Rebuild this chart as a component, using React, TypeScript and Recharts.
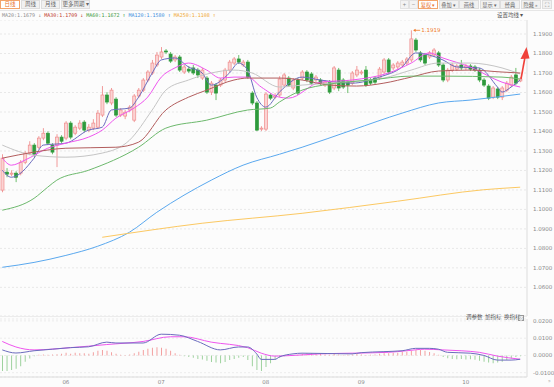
import React from "react";
import {
  ComposedChart,
  Bar,
  Line,
  XAxis,
  YAxis,
  CartesianGrid,
  Cell,
  ReferenceDot,
} from "recharts";

// daily candles (oldest first)
const opens = [
  1.1099, 1.1191, 1.1181, 1.1186, 1.1186, 1.1242, 1.1289, 1.133, 1.1319, 1.1366,
  1.1391, 1.133, 1.133, 1.1371, 1.1366, 1.1443, 1.1391, 1.1417, 1.1448, 1.1407,
  1.1417, 1.1422, 1.1484, 1.1587, 1.1546, 1.1566, 1.1484, 1.1479, 1.151, 1.1458,
  1.1582, 1.1612, 1.1664, 1.17, 1.1741, 1.1782, 1.1813, 1.1797, 1.1767, 1.1782,
  1.1705, 1.172, 1.1726, 1.1715, 1.1674, 1.1674, 1.1602, 1.1638, 1.1638, 1.1664,
  1.1715, 1.1751, 1.1772, 1.1741, 1.1756, 1.1597, 1.1546, 1.1412, 1.1412, 1.1587,
  1.1576, 1.1587, 1.1638, 1.1674, 1.1623, 1.1664, 1.1674, 1.1705, 1.1695, 1.1664,
  1.1664, 1.1638, 1.1653, 1.1623, 1.1715, 1.1664, 1.1653, 1.1648, 1.169, 1.17,
  1.1715, 1.1664, 1.1674, 1.1674, 1.1705, 1.1767, 1.1726, 1.1731, 1.1741, 1.1751,
  1.1767, 1.1869, 1.1803, 1.1792, 1.1782, 1.1792, 1.1803, 1.1741, 1.1664, 1.1715,
  1.172, 1.1741, 1.1726, 1.1736, 1.1731, 1.1715, 1.1664, 1.1633, 1.1576, 1.1618,
  1.1576, 1.1612, 1.1638, 1.169, 1.1659,
];
const highs = [
  1.1283, 1.1212, 1.1201, 1.1196, 1.1253, 1.1299, 1.135, 1.134, 1.1376, 1.1417,
  1.1401, 1.134, 1.1386, 1.1381, 1.1453, 1.1453, 1.1432, 1.1458, 1.1458, 1.1438,
  1.1463, 1.151, 1.1633, 1.1602, 1.1623, 1.1576, 1.152, 1.151, 1.1535, 1.1592,
  1.1623, 1.1674, 1.1715, 1.1767, 1.1808, 1.1833, 1.1823, 1.1808, 1.1792, 1.1792,
  1.1741, 1.1736, 1.1741, 1.1726, 1.1726, 1.1684, 1.1659, 1.1648, 1.1674, 1.1726,
  1.1767, 1.1782, 1.1792, 1.1767, 1.1767, 1.1607, 1.1556, 1.1427, 1.1602, 1.1597,
  1.1597, 1.1684, 1.17, 1.1684, 1.1674, 1.1674, 1.1715, 1.1715, 1.1705, 1.169,
  1.1674, 1.1664, 1.1664, 1.1736, 1.1726, 1.1674, 1.1664, 1.171, 1.1736, 1.1715,
  1.1736, 1.1674, 1.1684, 1.1731, 1.1777, 1.1777, 1.1751, 1.1761, 1.1767, 1.1782,
  1.1919, 1.188, 1.1813, 1.1803, 1.1813, 1.1828, 1.1813, 1.1751, 1.1726, 1.1751,
  1.1746, 1.1767, 1.1746, 1.1746, 1.1741, 1.1726, 1.1674, 1.1643, 1.1633, 1.1628,
  1.1633, 1.1659, 1.169, 1.1726, 1.1679,
];
const lows = [
  1.1088, 1.1165, 1.117, 1.114, 1.1175, 1.1232, 1.1278, 1.1268, 1.1309, 1.1355,
  1.133, 1.1283, 1.1217, 1.134, 1.1355, 1.136, 1.1381, 1.1407, 1.1396, 1.1396,
  1.1407, 1.1412, 1.1474, 1.154, 1.1535, 1.1474, 1.1474, 1.1463, 1.1499, 1.1448,
  1.1571, 1.1602, 1.1653, 1.169, 1.1731, 1.1772, 1.1797, 1.1751, 1.1756, 1.1705,
  1.1695, 1.17, 1.169, 1.1674, 1.1664, 1.1592, 1.1587, 1.1561, 1.1628, 1.1653,
  1.1705, 1.1741, 1.1746, 1.1731, 1.1669, 1.1535, 1.1402, 1.1402, 1.1402, 1.1561,
  1.1566, 1.1576, 1.1628, 1.1628, 1.1612, 1.1587, 1.1664, 1.1653, 1.1638, 1.1653,
  1.1638, 1.1628, 1.1592, 1.1612, 1.1607, 1.1618, 1.1597, 1.1638, 1.1679, 1.169,
  1.1628, 1.1638, 1.1643, 1.1664, 1.1695, 1.1695, 1.1715, 1.172, 1.1731, 1.1741,
  1.1756, 1.1808, 1.1756, 1.1741, 1.1772, 1.1782, 1.1731, 1.1653, 1.1653, 1.1705,
  1.171, 1.1715, 1.1715, 1.171, 1.1705, 1.1653, 1.1628, 1.1561, 1.1566, 1.1566,
  1.1561, 1.1602, 1.1628, 1.1638, 1.1653,
];
const closes = [
  1.1263, 1.1181, 1.1186, 1.1165, 1.1242, 1.1289, 1.133, 1.1283, 1.1366, 1.1391,
  1.134, 1.1294, 1.1371, 1.135, 1.1443, 1.1371, 1.1422, 1.1443, 1.1407, 1.1422,
  1.1443, 1.1494, 1.1587, 1.1551, 1.1612, 1.1484, 1.151, 1.1499, 1.1525, 1.1582,
  1.1612, 1.1664, 1.1705, 1.1751, 1.1792, 1.1808, 1.1808, 1.1761, 1.1782, 1.1715,
  1.1731, 1.171, 1.17, 1.169, 1.1715, 1.1602, 1.1648, 1.1597, 1.1664, 1.1715,
  1.1756, 1.1772, 1.1756, 1.1756, 1.1679, 1.1546, 1.1407, 1.1417, 1.1592, 1.1571,
  1.1582, 1.1669, 1.169, 1.1638, 1.1664, 1.1597, 1.1705, 1.1664, 1.1648, 1.1679,
  1.1648, 1.1653, 1.1602, 1.1726, 1.1623, 1.1628, 1.1638, 1.17, 1.1715, 1.1705,
  1.1638, 1.1648, 1.1653, 1.172, 1.1767, 1.1705, 1.1741, 1.1751, 1.1756, 1.1772,
  1.1875, 1.1818, 1.1767, 1.1751, 1.1803, 1.1818, 1.1741, 1.1664, 1.1715, 1.1741,
  1.1736, 1.1726, 1.1736, 1.172, 1.1715, 1.1664, 1.1638, 1.1571, 1.1623, 1.1576,
  1.1623, 1.1648, 1.1679, 1.1648, 1.1669,
];

// moving averages as [candle index, value]
const ma5 = [
  [0, 1.1201], [2, 1.1165], [7, 1.1263], [9, 1.133], [14, 1.134], [19, 1.1407],
  [22, 1.1422], [24, 1.151], [28, 1.152], [30, 1.1576], [33, 1.17], [35, 1.1767],
  [38, 1.1777], [41, 1.1731], [44, 1.17], [46, 1.1638], [50, 1.17], [52, 1.1751],
  [54, 1.1715], [56, 1.1576], [58, 1.1525], [61, 1.1602], [66, 1.1679], [70, 1.1664],
  [77, 1.1648], [83, 1.1679], [88, 1.1731], [91, 1.1803], [94, 1.1792], [97, 1.1767],
  [100, 1.1731], [105, 1.1726], [109, 1.1628], [110, 1.1602], [112, 1.1628], [114, 1.1664],
];
const ma10 = [
  [0, 1.1263], [2, 1.1227], [5, 1.1253], [10, 1.1314], [14, 1.134], [19, 1.1371],
  [22, 1.1407], [25, 1.1468], [29, 1.152], [32, 1.1576], [35, 1.1679], [38, 1.1726],
  [41, 1.1751], [45, 1.1715], [48, 1.1674], [51, 1.1679], [54, 1.1679], [57, 1.1628],
  [61, 1.1576], [63, 1.1571], [70, 1.1653], [77, 1.1664], [85, 1.17], [90, 1.1751],
  [94, 1.1803], [97, 1.1777], [103, 1.1731], [110, 1.1653], [114, 1.1628],
];
const ma20 = [
  [0, 1.133], [7, 1.1278], [14, 1.1268], [22, 1.1289], [28, 1.1355], [33, 1.151],
  [36, 1.1612], [41, 1.1664], [46, 1.17], [51, 1.1715], [55, 1.17], [61, 1.1628],
  [66, 1.1638], [75, 1.1653], [84, 1.1674], [90, 1.1715], [96, 1.1751], [103, 1.1751],
  [110, 1.1726], [114, 1.1695],
];
const ma30 = [
  [0, 1.1263], [7, 1.1294], [14, 1.1314], [25, 1.1319], [30, 1.1345], [36, 1.151],
  [41, 1.1576], [45, 1.1612], [51, 1.1664], [54, 1.1674], [61, 1.1674], [66, 1.1664],
  [72, 1.1638], [78, 1.1633], [84, 1.1648], [90, 1.1679], [96, 1.171], [103, 1.1715],
  [110, 1.1705], [114, 1.17],
];
const ma60 = [
  [0, 1.0996], [7, 1.1057], [10, 1.1114], [12, 1.115], [19, 1.1201], [30, 1.1319],
  [36, 1.1417], [45, 1.1458], [54, 1.151], [59, 1.152], [61, 1.1551], [66, 1.1612],
  [72, 1.1643], [81, 1.1664], [90, 1.1684], [97, 1.1684], [110, 1.1679], [114, 1.1669],
];
const ma120 = [
  [0, 1.0703], [7, 1.0728], [14, 1.0764], [21, 1.0811], [28, 1.0883], [34, 1.0985],
  [40, 1.1073], [46, 1.115], [53, 1.1227], [61, 1.1283], [66, 1.1319], [77, 1.1407],
  [88, 1.1494], [96, 1.1546], [103, 1.1561], [114, 1.1592],
];
const ma250 = [
  [22, 1.0857], [44, 1.0929], [66, 1.098], [87, 1.1042], [106, 1.1101], [114, 1.1114],
];

// MACD panel
const dif = [
  [0, 0.0032], [3, 0.0014], [7, 0.0027], [11, 0.0036], [15, 0.0045], [19, 0.005],
  [23, 0.0077], [25, 0.0072], [31, 0.0072], [35, 0.0123], [39, 0.0117], [43, 0.0081],
  [48, 0.0032], [52, 0.0049], [54, 0.0049], [56, 0.0009], [57, -0.0023], [60, -0.0023],
  [61, -0.0009], [64, 0.0009], [66, 0.0013], [77, 0.0009], [79, 0.0016], [84, 0.0022],
  [88, 0.0027], [91, 0.0041], [94, 0.0041], [96, 0.0036], [98, 0.0018], [103, 0.0013],
  [106, 0], [109, -0.0027], [112, -0.0027], [114, -0.0022],
];
const dea = [
  [0, 0.0081], [3, 0.0049], [7, 0.0032], [15, 0.0045], [23, 0.0063], [31, 0.0081],
  [37, 0.0108], [40, 0.0108], [46, 0.0077], [54, 0.0045], [57, 0.0013], [60, -0.0004],
  [64, 0], [70, 0.0009], [77, 0.0013], [85, 0.0018], [89, 0.0027], [93, 0.0036],
  [97, 0.0032], [101, 0.0027], [105, 0.0018], [109, -0.0004], [114, -0.0022],
];
const macdHist = [
  -0.009, -0.009, -0.0085, -0.0077, -0.0063, -0.0036, -0.0018, -0.0005, 0.0004, 0.0005,
  0.0004, 0.0005, 0.0007, 0.0009, 0.0016, 0.0009, 0.0016, 0.0013, 0.0013, 0.0009,
  0.0018, 0.0027, 0.0031, 0.0027, 0.0018, 0.0009, 0.0004, 0.0002, 0.0005, 0.0013,
  0.0022, 0.0031, 0.0038, 0.0045, 0.0047, 0.0045, 0.0038, 0.0027, 0.0013, 0.0004,
  -0.0005, -0.0009, -0.0014, -0.002, -0.0023, -0.0031, -0.0038, -0.0041, -0.0045, -0.0038,
  -0.0027, -0.002, -0.0013, -0.0009, -0.0027, -0.0063, -0.0085, -0.009, -0.0067, -0.0045,
  -0.0023, -0.0013, -0.0005, -0.0004, 0.0002, 0.0004, 0.0009, 0.0013, 0.0013, 0.0009,
  0.0009, 0.0005, 0.0004, 0.0009, 0.0005, 0.0002, 0.0004, 0.0005, 0.0009, 0.0005,
  0.0002, 0.0004, 0.0005, 0.0009, 0.0013, 0.0013, 0.0016, 0.0016, 0.002, 0.0022,
  0.0027, 0.0031, 0.0031, 0.0027, 0.002, 0.0013, 0.0004, -0.0009, -0.0016, -0.002,
  -0.0022, -0.002, -0.0023, -0.0022, -0.0025, -0.0031, -0.0036, -0.0041, -0.0045, -0.0041,
  -0.0036, -0.0027, -0.0018, -0.0009, -0.0005,
];

const priceTicks = [
  1.06, 1.07, 1.08, 1.09, 1.1, 1.11, 1.12, 1.13, 1.14, 1.15, 1.16, 1.17, 1.18, 1.19,
];
const macdTicks = [0.02, 0.01, 0, -0.01];
const monthIdx = [14, 35, 58, 79, 102];
const monthLabels = ["06", "07", "08", "09", "10"];

const peakIdx = 90;
const peakValue = 1.1919;

const tabs = ["日线", "周线", "月线", "更多周期 ▾"];
const tools = ["复权 ▾", "叠加 ▾", "画线", "显示 ▾", "经典", "隐藏 »"];
const legendNames = ["MA20", "MA30", "MA60", "MA120", "MA250"];
const legendValues = ["1.1679", "1.1709", "1.1672", "1.1580", "1.1108"];
const legendArrows = ["↓", "↓", "↑", "↑", "↑"];
const legendColors = ["#8d8d8d", "#c0392b", "#3c9a3c", "#3d8fe0", "#f0a830"];

const maLines = [
  { key: "ma5", pts: ma5, color: "#6b6bbd" },
  { key: "ma10", pts: ma10, color: "#ee55ee" },
  { key: "ma20", pts: ma20, color: "#c4c4c4" },
  { key: "ma30", pts: ma30, color: "#b25d5d" },
  { key: "ma60", pts: ma60, color: "#6cb86c" },
  { key: "ma120", pts: ma120, color: "#5aa8ee" },
  { key: "ma250", pts: ma250, color: "#fbc862" },
];

const rows: any[] = Array.from({ length: opens.length + 1 }, (_, i) =>
  i < opens.length
    ? {
        i,
        open: opens[i],
        high: highs[i],
        low: lows[i],
        close: closes[i],
        range: [lows[i], highs[i]],
        macd: macdHist[i],
      }
    : { i }
);
maLines.forEach((s) => s.pts.forEach(([idx, v]) => (rows[idx][s.key] = v)));
dif.forEach(([idx, v]) => (rows[idx].dif = v));
dea.forEach(([idx, v]) => (rows[idx].dea = v));

const Candle = (props: any) => {
  const { x, y, width, height, payload } = props;
  if (!payload || payload.open == null) return null;
  const { open, close, high, low } = payload;
  const top = Math.min(y, y + height);
  const h = Math.abs(height);
  const k = high === low ? 0 : h / (high - low);
  const py = (v: number) => top + (high - v) * k;
  const up = close >= open;
  const cx = x + width / 2;
  const bTop = py(Math.max(open, close));
  const bH = Math.max(1, Math.abs(py(open) - py(close)));
  return (
    <g>
      <line x1={cx} x2={cx} y1={top} y2={top + h} stroke={up ? "#f19a9a" : "#6fbf6f"} strokeWidth={1} />
      <rect
        x={x}
        y={bTop}
        width={width}
        height={bH}
        fill={up ? "#fbd3d3" : "#2e9a3c"}
        stroke={up ? "#ef8c8c" : "#2e9a3c"}
        strokeWidth={0.7}
      />
    </g>
  );
};

const PeakMark = (p: any) => (
  <g>
    <line x1={p.cx + 3} x2={p.cx + 9} y1={p.cy} y2={p.cy} stroke="#f07a2a" strokeWidth={0.8} />
    <path d={`M${p.cx + 2},${p.cy} l2.5,-1.6 l0,3.2 z`} fill="#f07a2a" />
    <text x={p.cx + 10} y={p.cy + 2} fontSize={5.5} fill="#f07a2a" fontFamily="DejaVu Sans">
      {peakValue.toFixed(4)}
    </text>
  </g>
);

const tickStyle = { fontSize: 5.5, fill: "#8a8a8a", fontFamily: "DejaVu Sans" };

export default function App() {
  return (
    <div
      style={{
        position: "absolute",
        left: 0,
        top: 0,
        width: 554,
        height: 387,
        background: "#fcfcfc",
        overflow: "hidden",
        fontFamily: "'Noto Sans CJK SC', sans-serif",
      }}
    >
      {/* period tabs */}
      {tabs.map((t, k) => (
        <div
          key={t}
          style={{
            position: "absolute",
            top: 0,
            left: [0, 21, 41, 61][k],
            width: [20, 19, 19, 29][k],
            height: 9,
            boxSizing: "border-box",
            border: k === 0 ? "1px solid #f3a46a" : "1px solid #dedede",
            background: k === 0 ? "#fff" : "#f1f1f1",
            color: k === 0 ? "#e8712a" : "#666",
            fontSize: 5.5,
            lineHeight: "7px",
            textAlign: "center",
          }}
        >
          {t}
        </div>
      ))}
      {/* right toolbar */}
      {["+", "−"].map((t, k) => (
        <div
          key={t}
          style={{
            position: "absolute",
            top: 0,
            left: 400 + k * 9,
            width: 9,
            height: 9,
            boxSizing: "border-box",
            border: "1px solid #e2e2e2",
            background: "#f3f3f3",
            color: "#888",
            fontSize: 6,
            lineHeight: "7px",
            textAlign: "center",
          }}
        >
          {t}
        </div>
      ))}
      {tools.map((t, k) => (
        <div
          key={t}
          style={{
            position: "absolute",
            top: 0,
            left: 418 + k * 20.5,
            width: 20,
            height: 9,
            boxSizing: "border-box",
            border: k === 0 ? "1px solid #f3a46a" : "1px solid #dedede",
            background: k === 0 ? "#fff" : "#f1f1f1",
            color: k === 0 ? "#e8712a" : "#666",
            fontSize: 5.2,
            lineHeight: "7px",
            textAlign: "center",
            whiteSpace: "nowrap",
          }}
        >
          {t}
        </div>
      ))}
      <div
        style={{
          position: "absolute",
          top: 0,
          left: 542,
          width: 10,
          height: 9,
          boxSizing: "border-box",
          border: "1px solid #dedede",
          background: "#f1f1f1",
          color: "#777",
          fontSize: 6,
          lineHeight: "7px",
          textAlign: "center",
        }}
      >
        ⛶
      </div>
      <div style={{ position: "absolute", top: 10, left: 0, width: 554, height: 1, background: "#e6e6e6" }} />
      {/* MA legend */}
      <div
        style={{
          position: "absolute",
          top: 12,
          left: 2,
          fontSize: 5,
          lineHeight: "7px",
          whiteSpace: "nowrap",
          fontFamily: "'DejaVu Sans Mono', monospace",
        }}
      >
        {legendNames.map((n, k) => (
          <span key={n} style={{ color: legendColors[k], marginRight: 3 }}>
            {n}:{legendValues[k]} {legendArrows[k]}
          </span>
        ))}
      </div>
      <div style={{ position: "absolute", top: 12, left: 497, fontSize: 5.5, lineHeight: "7px", color: "#555", whiteSpace: "nowrap" }}>
        设置均线 ▾
      </div>

      {/* price panel */}
      <div style={{ position: "absolute", left: 0, top: 20 }}>
        <ComposedChart width={554} height={296} data={rows} margin={{ top: 0, right: 0, bottom: 0, left: 0 }}>
          <CartesianGrid vertical={false} stroke="#e8e8e8" strokeDasharray="2 2" />
          <XAxis dataKey="i" hide />
          <YAxis
            orientation="right"
            width={27}
            domain={[1.0453, 1.1972]}
            ticks={priceTicks}
            interval={0}
            allowDataOverflow
            tickFormatter={(v: number) => v.toFixed(4)}
            tick={tickStyle}
            tickLine={false}
            tickSize={0}
            tickMargin={6}
            axisLine={{ stroke: "#dcdcdc" }}
          />
          {maLines.map((s) => (
            <Line
              key={s.key}
              type="monotone"
              dataKey={s.key}
              stroke={s.color}
              strokeWidth={1}
              dot={false}
              activeDot={false}
              connectNulls
              isAnimationActive={false}
            />
          ))}
          <Bar dataKey="range" barSize={3} shape={Candle} isAnimationActive={false} />
          <ReferenceDot x={peakIdx} y={peakValue} r={0} shape={PeakMark} />
        </ComposedChart>
      </div>

      <div style={{ position: "absolute", left: 0, top: 316, width: 527, height: 1, background: "#ececec" }} />
      <div style={{ position: "absolute", top: 314, left: 466, fontSize: 5.5, lineHeight: "7px", color: "#555", whiteSpace: "nowrap" }}>
        调参数&nbsp;&nbsp;加指标&nbsp;&nbsp;换指标
      </div>
      <div
        style={{
          position: "absolute",
          top: 315,
          left: 518,
          width: 6,
          height: 6,
          boxSizing: "border-box",
          border: "1px solid #999",
          color: "#777",
          fontSize: 5,
          lineHeight: "4px",
          textAlign: "center",
        }}
      >
        ×
      </div>

      {/* MACD panel */}
      <div style={{ position: "absolute", left: 0, top: 316 }}>
        <ComposedChart width={554} height={71} data={rows} margin={{ top: 3, right: 0, bottom: 0, left: 0 }}>
          <CartesianGrid vertical={false} stroke="#ececec" strokeDasharray="2 2" />
          <XAxis
            dataKey="i"
            ticks={monthIdx}
            interval={0}
            height={10}
            tickFormatter={(v: number) => monthLabels[monthIdx.indexOf(v)] ?? ""}
            tick={tickStyle}
            tickLine={false}
            tickSize={0}
            tickMargin={3}
            axisLine={{ stroke: "#dcdcdc" }}
          />
          <YAxis
            orientation="right"
            width={27}
            domain={[-0.0125, 0.0211]}
            ticks={macdTicks}
            interval={0}
            allowDataOverflow
            tickFormatter={(v: number) => v.toFixed(4)}
            tick={tickStyle}
            tickLine={false}
            tickSize={0}
            tickMargin={6}
            axisLine={{ stroke: "#dcdcdc" }}
          />
          <Bar dataKey="macd" barSize={1} isAnimationActive={false}>
            {rows.map((r, k) => (
              <Cell key={k} fill={(r.macd ?? 0) >= 0 ? "#f3a0a0" : "#9ed29e"} />
            ))}
          </Bar>
          <Line type="monotone" dataKey="dea" stroke="#ee55ee" strokeWidth={1} dot={false} activeDot={false} connectNulls isAnimationActive={false} />
          <Line type="monotone" dataKey="dif" stroke="#6b6bbd" strokeWidth={1} dot={false} activeDot={false} connectNulls isAnimationActive={false} />
        </ComposedChart>
      </div>
      <div style={{ position: "absolute", top: 378, left: 548, fontSize: 5.5, lineHeight: "7px", color: "#999" }}>»</div>

      {/* trend arrow */}
      <svg width={554} height={387} style={{ position: "absolute", left: 0, top: 0, pointerEvents: "none" }}>
        <line x1={521} y1={79} x2={525} y2={57} stroke="#f0413a" strokeWidth={1.6} />
        <path d="M526.5,47 L520.5,59 L529.5,58.5 Z" fill="#f0413a" />
      </svg>
    </div>
  );
}
